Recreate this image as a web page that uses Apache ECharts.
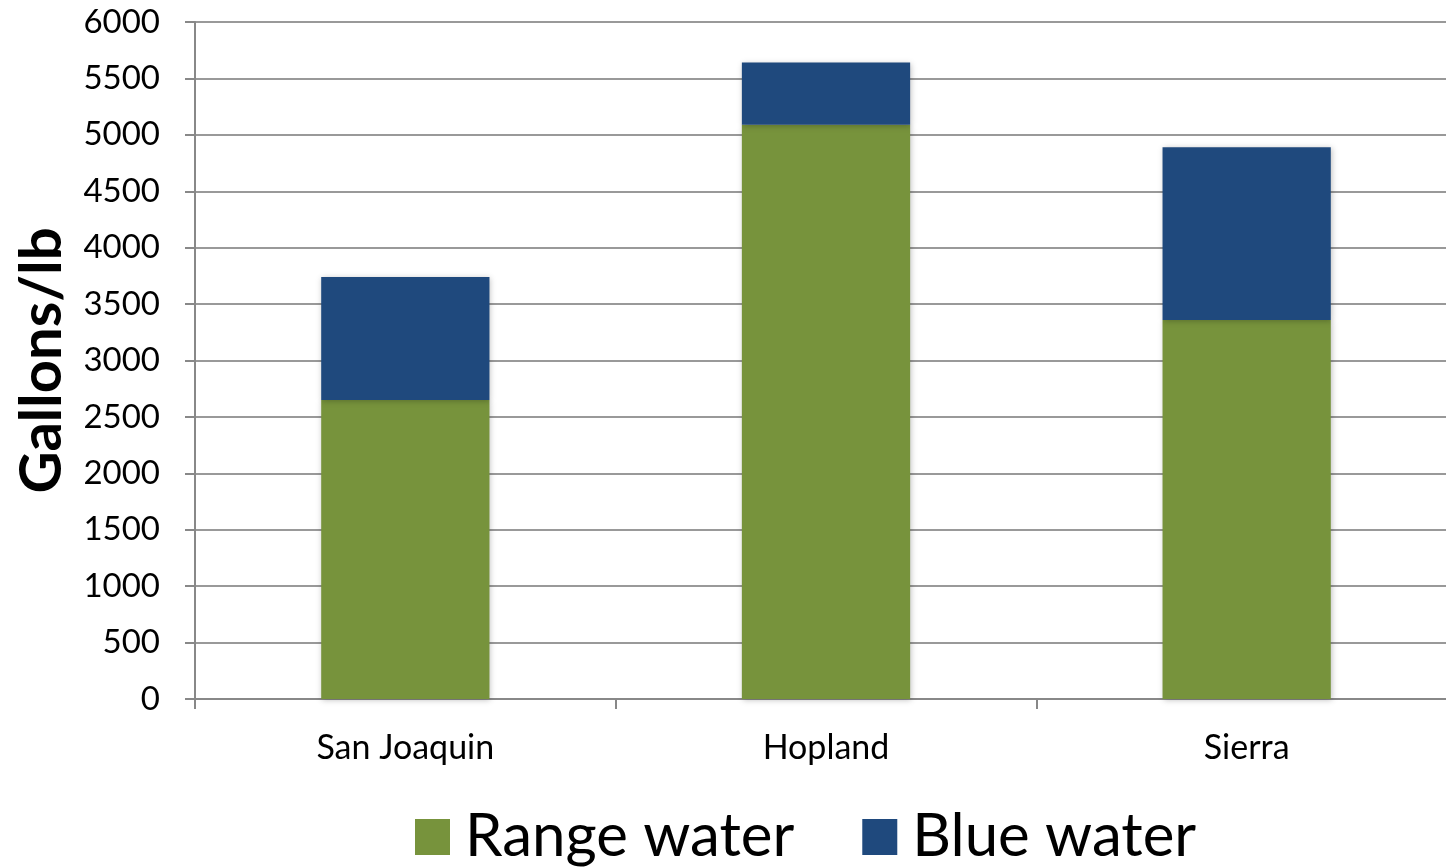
<!DOCTYPE html>
<html>
<head>
<meta charset="utf-8">
<script src="https://cdn.jsdelivr.net/npm/echarts@6/dist/echarts.min.js"></script>
<style>
html,body{margin:0;padding:0;background:#fff;}
#chart{width:1446px;height:867px;}
</style>
</head>
<body>
<div id="chart"></div>
<script>
const categories = ['San Joaquin', 'Hopland', 'Sierra'];
const rangeWater = [2650, 5090, 3360];
const blueWater = [1090, 550, 1530];
const yTicks = { min: 0, max: 6000, interval: 500 };

const FONT = 'Lato';
const chart = echarts.init(document.getElementById('chart'));
const barShadow = { shadowBlur: 6, shadowColor: 'rgba(0,0,0,0.25)', shadowOffsetX: 1, shadowOffsetY: 1 };
chart.setOption({
  animation: false,
  textStyle: { fontFamily: FONT },
  grid: { left: 195, width: 1262, top: 22, bottom: 168, containLabel: false, outerBoundsMode: 'none' },
  legend: {
    bottom: 0, left: 415, padding: 0,
    itemWidth: 35, itemHeight: 36, itemGap: 68,
    icon: 'rect',
    textStyle: { fontSize: 60, color: '#000', fontFamily: FONT, padding: [0, 0, 0, 10] },
    data: ['Range water', 'Blue water']
  },
  xAxis: {
    type: 'category', data: categories,
    axisLine: { lineStyle: { color: '#888', width: 2 } },
    axisTick: { show: true, length: 10, lineStyle: { color: '#888', width: 2 } },
    axisLabel: { fontSize: 34, color: '#000', margin: 32, fontFamily: FONT }
  },
  yAxis: {
    type: 'value', min: yTicks.min, max: yTicks.max, interval: yTicks.interval,
    name: 'Gallons/lb', nameLocation: 'middle', nameGap: 124,
    nameTextStyle: { fontSize: 58, fontWeight: 'bold', color: '#000', fontFamily: FONT },
    axisLine: { show: true, lineStyle: { color: '#888', width: 2 } },
    axisTick: { show: true, length: 10, lineStyle: { color: '#888', width: 2 } },
    splitLine: { lineStyle: { color: '#999', width: 2 } },
    axisLabel: { fontSize: 33, color: '#000', margin: 35, fontFamily: FONT, formatter: v => String(v) }
  },
  series: [
    { name: 'Range water', type: 'bar', stack: 'total', data: rangeWater, barWidth: '40%',
      itemStyle: Object.assign({ color: '#77933C' }, barShadow) },
    { name: 'Blue water', type: 'bar', stack: 'total', data: blueWater, barWidth: '40%',
      itemStyle: Object.assign({ color: '#1F497D' }, barShadow) }
  ]
});
</script>
</body>
</html>
